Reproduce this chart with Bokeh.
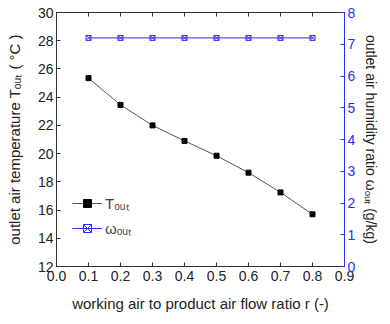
from bokeh.plotting import figure
from bokeh.models import (LinearAxis, Range1d, FixedTicker, Legend, LegendItem,
                          ColumnDataSource, CustomJSTickFormatter, PrintfTickFormatter)
from bokeh.embed import file_html
from bokeh.resources import INLINE

r = [0.1, 0.2, 0.3, 0.4, 0.5, 0.6, 0.7, 0.8]
t_out = [25.35, 23.45, 22.0, 20.9, 19.85, 18.65, 17.25, 15.7]
w_out = [7.2, 7.2, 7.2, 7.2, 7.2, 7.2, 7.2, 7.2]
x_ticks = [0.0, 0.1, 0.2, 0.3, 0.4, 0.5, 0.6, 0.7, 0.8, 0.9]
y_ticks = [12, 14, 16, 18, 20, 22, 24, 26, 28, 30]
y2_ticks = [0, 1, 2, 3, 4, 5, 6, 7, 8]

FONT = "Liberation Sans"
BLUE = "#2a2aff"

p = figure(width=382, height=316, output_backend="svg", toolbar_location=None,
           x_range=Range1d(0, 0.9), y_range=Range1d(12, 30),
           min_border_left=56, min_border_right=32, min_border_top=12, min_border_bottom=50)
p.extra_y_ranges = {"w": Range1d(0, 8)}
p.grid.visible = False
p.outline_line_color = "black"
p.background_fill_color = "white"

for ax in (p.xaxis[0], p.yaxis[0]):
    ax.major_tick_in = 4
    ax.major_tick_out = 0
    ax.minor_tick_in = 0
    ax.minor_tick_out = 0
    ax.major_label_text_font = FONT
    ax.major_label_text_font_size = "14px"
    ax.major_label_text_color = "#222222"
    ax.axis_label_text_font = FONT
    ax.axis_label_text_font_style = "normal"
    ax.axis_label_text_color = "#222222"
    ax.axis_line_color = "#333333"
    ax.major_tick_line_color = "#333333"

p.xaxis.ticker = FixedTicker(ticks=x_ticks)
p.xaxis.formatter = PrintfTickFormatter(format="%.1f")
p.xaxis.major_label_standoff = 4
p.xaxis.axis_label = "working air to product air flow ratio r (-)"
p.xaxis.axis_label_text_font_size = "15px"
p.xaxis.axis_label_standoff = 11

p.yaxis.ticker = FixedTicker(ticks=y_ticks)
p.yaxis.major_label_standoff = 3
p.yaxis.axis_label = "outlet air temperature T\u2092\u1d64\u209c ( \u00b0C )"
p.yaxis.axis_label_text_font_size = "15px"
p.yaxis.axis_label_standoff = 12

top = LinearAxis(ticker=FixedTicker(ticks=x_ticks),
                 formatter=CustomJSTickFormatter(code="return ''"),
                 major_label_standoff=0,
                 major_tick_in=4, major_tick_out=0, minor_tick_in=0, minor_tick_out=0,
                 axis_line_color="#333333", major_tick_line_color="#333333")
p.add_layout(top, "above")

right = LinearAxis(y_range_name="w", ticker=FixedTicker(ticks=y2_ticks),
                   major_tick_in=4, major_tick_out=0, minor_tick_in=0, minor_tick_out=0,
                   axis_line_color=BLUE, major_tick_line_color=BLUE,
                   major_label_text_color=BLUE, major_label_text_font=FONT,
                   major_label_text_font_size="14px", major_label_standoff=3,
                   axis_label="outlet air humidity ratio \u03c9\u2092\u1d64\u209c (g/kg)",
                   axis_label_text_font=FONT, axis_label_text_font_style="normal",
                   axis_label_text_font_size="14px", axis_label_text_color="#222222",
                   axis_label_standoff=5)
p.add_layout(right, "right")

src = ColumnDataSource(dict(r=r, t=t_out, w=w_out))
lt = p.line("r", "t", source=src, line_color="#555555", line_width=1)
mt = p.scatter("r", "t", source=src, marker="square", size=5, fill_color="black", line_color="black")
lw = p.line("r", "w", source=src, y_range_name="w", line_color=BLUE, line_width=1)
mw = p.scatter("r", "w", source=src, y_range_name="w", marker="square_x", size=5,
               fill_color=None, line_color=BLUE, line_width=1)

legend = Legend(items=[LegendItem(label="T\u2092\u1d64\u209c", renderers=[lt, mt]),
                       LegendItem(label="\u03c9\u2092\u1d64\u209c", renderers=[lw, mw])],
                location=(16, 28), border_line_color=None, background_fill_alpha=0,
                label_text_font=FONT, label_text_font_size="15px", glyph_width=30,
                glyph_height=20, spacing=5, padding=4, label_standoff=3)
p.add_layout(legend)

open("out.html", "w").write(file_html(p, INLINE))
